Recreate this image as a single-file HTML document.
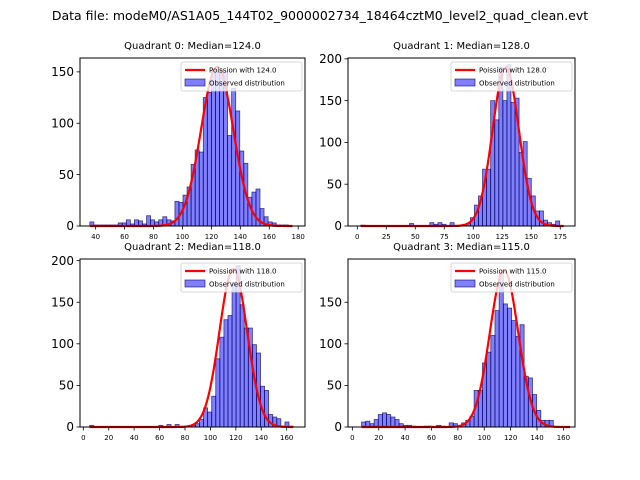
<!DOCTYPE html>
<html><head><meta charset="utf-8"><style>
body{margin:0;background:#fff;width:640px;height:480px;overflow:hidden}
svg{display:block;font-family:"DejaVu Sans","Liberation Sans",sans-serif}
</style></head><body>
<svg id="fig" width="640" height="480" viewBox="0 0 640 480">
<text x="320" y="20" text-anchor="middle" font-size="12.5" fill="#000">Data file: modeM0/AS1A05_144T02_9000002734_18464cztM0_level2_quad_clean.evt</text>
</svg>
<script>
const medians=[124.0,128.0,118.0,115.0];
const binStart=[36,3,5,7];
const binWidth=[2.8,3.5,3.2,3.16];
const counts0=[4,1,1,1,1,1,1,3,3,6,2,6,5,2,10,6,4,6,9,6,5,24,23,30,38,60,74,72,125,130,152,150,152,150,88,134,112,73,61,28,33,36,17,9,4,3,1,1,1,0];
const counts1=[1,0,0,0,0,0,0,0,0,0,0,0,3,0,0,0,0,4,2,4,2,0,4,0,0,2,3,10,25,36,68,68,150,127,190,150,193,148,153,88,101,57,36,18,18,7,4,2,6,0];
const counts2=[2,0,0,0,0,0,0,0,0,0,0,0,0,0,0,0,0,2,0,3,0,3,0,0,0,2,4,9,23,18,37,82,108,129,134,174,194,147,119,119,99,89,49,44,15,12,10,1,6,1];
const counts3=[6,7,4,9,15,17,15,12,9,4,2,2,1,0,0,1,1,0,2,1,0,5,4,2,5,8,13,44,44,77,90,110,140,185,148,143,128,109,123,61,59,39,20,8,8,8,0,0,0,0];
const curveAmp=[155,190,190,188];
const curveRange=[[36,176],[3,178],[5,165],[7,165]];
const xTicks=[[40,60,80,100,120,140,160,180],[0,25,50,75,100,125,150,175],[0,20,40,60,80,100,120,140,160],[0,20,40,60,80,100,120,140,160]];
const yTicks=[[0,50,100,150],[0,50,100,150,200],[0,50,100,150,200],[0,50,100,150]];
const xLim=[[29.2,184.7],[-8,187.7],[-2.6,174.4],[-3.3,168.8]];
const yLim=[163.5,201,202,202];
const allCounts=[counts0,counts1,counts2,counts3];
const boxes=[[80,58,225,168],[348,58,227,168],[80,259,225,168],[348,259,227,168]];
const NS='http://www.w3.org/2000/svg';
const fig=document.getElementById('fig');
function mk(tag,attrs,parent){const e=document.createElementNS(NS,tag);for(const k in attrs)e.setAttribute(k,attrs[k]);(parent||fig).appendChild(e);return e;}
for(let q=0;q<4;q++){
  const [L,T,W,H]=boxes[q];
  const g=mk('g',{});
  
  
  const sx=v=>L+(v-xLim[q][0])/(xLim[q][1]-xLim[q][0])*W;
  const sy=v=>T+H-v/yLim[q]*H;
  const tt=mk('text',{x:L+W/2,y:T-9,'text-anchor':'middle','font-size':'10',fill:'#000'},g);
  tt.textContent='Quadrant '+q+': Median='+medians[q].toFixed(1);
  
  
  const cs=allCounts[q];
  for(let i=0;i<cs.length;i++){
    if(cs[i]<=0)continue;
    const x0=sx(binStart[q]+i*binWidth[q]),x1=sx(binStart[q]+(i+1)*binWidth[q]);
    const r=mk('rect',{x:x0,y:sy(cs[i]),width:x1-x0,height:sy(0)-sy(cs[i]),fill:'rgba(0,0,255,0.5)',stroke:'rgba(0,0,80,0.7)','stroke-width':'0.8'},g);
    
    
  }
  const mu=medians[q];let d='';
  for(let x=curveRange[q][0];x<=curveRange[q][1];x+=0.5){
    const y=curveAmp[q]*Math.exp(-(x-mu)*(x-mu)/(2*mu));
    d+=(d?'L':'M')+sx(x).toFixed(2)+','+sy(y).toFixed(2);
  }
  const p=mk('path',{d:d,fill:'none',stroke:'#ff0000','stroke-width':'2.2'},g);
  
  
  const fr=mk('rect',{x:L,y:T,width:W,height:H,fill:'none',stroke:'#000','stroke-width':'1'},g);
  
  
  for(const t of xTicks[q]){
    const X=sx(t);
    mk('line',{x1:X,y1:T+H,x2:X,y2:T+H+3.5,stroke:'#000','stroke-width':'0.8'},g);
    const lt=mk('text',{x:X,y:T+H+13,'text-anchor':'middle','font-size':'7',fill:'#000'},g);
    lt.textContent=t;
    
    
  }
  for(const t of yTicks[q]){
    const Y=sy(t);
    mk('line',{x1:L,y1:Y,x2:L-3.5,y2:Y,stroke:'#000','stroke-width':'0.8'},g);
    const lt=mk('text',{x:L-6,y:Y+4.2,'text-anchor':'end','font-size':'12',fill:'#000'},g);
    lt.textContent=t;
    
    
  }
  const lg=mk('g',{},g);
  
  
  const lx=L+W-124,ly=T+4;
  mk('rect',{x:lx,y:ly,width:121,height:29,fill:'rgba(255,255,255,0.8)',stroke:'#ccc','stroke-width':'0.8',rx:'2'},lg);
  mk('line',{x1:lx+4,y1:ly+8,x2:lx+24,y2:ly+8,stroke:'#ff0000','stroke-width':'2.2'},lg);
  const t1=mk('text',{x:lx+28,y:ly+10.5,'font-size':'7',fill:'#000'},lg);
  t1.textContent='Poission with '+mu.toFixed(1);
  
  
  mk('rect',{x:lx+4,y:ly+17,width:20,height:7,fill:'rgba(0,0,255,0.5)',stroke:'rgba(0,0,80,0.7)','stroke-width':'0.8'},lg);
  const t2=mk('text',{x:lx+28,y:ly+23.5,'font-size':'7',fill:'#000'},lg);
  t2.textContent='Observed distribution';
  
  
}
</script>
</body></html>
